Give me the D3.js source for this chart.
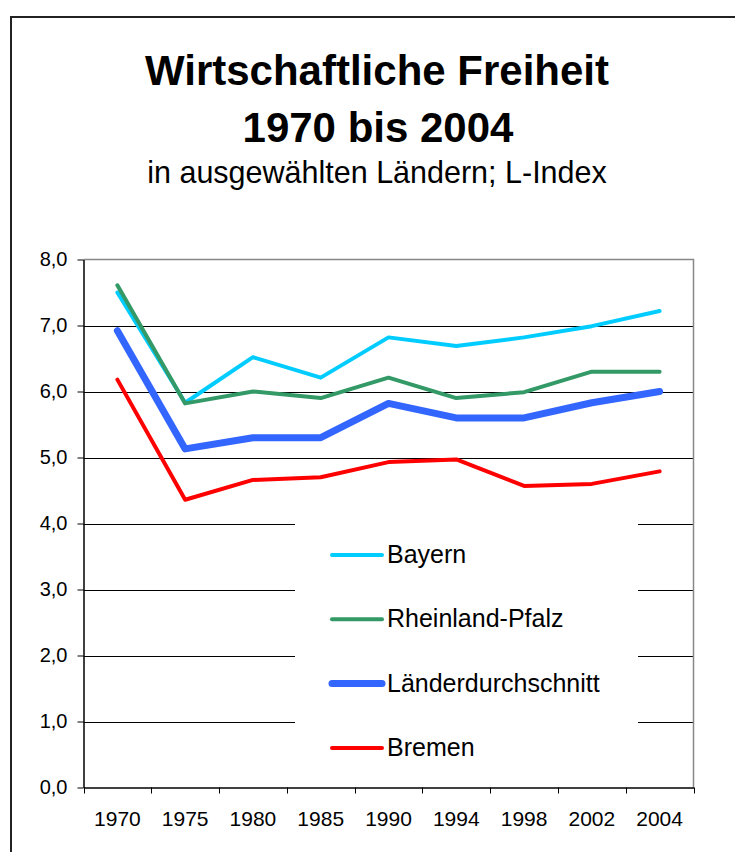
<!DOCTYPE html>
<html>
<head>
<meta charset="utf-8">
<script src="https://cdn.jsdelivr.net/npm/d3@7"></script>
<style>
  body { margin: 0; background: #fff; }
  svg { display: block; font-family: "Liberation Sans", Arial, sans-serif; }
</style>
</head>
<body>
<div id="root"></div>
<script>
const years = ["1970", "1975", "1980", "1985", "1990", "1994", "1998", "2002", "2004"];
const bayern = [7.5, 5.83, 6.52, 6.21, 6.82, 6.69, 6.82, 6.99, 7.22];
const rheinlandPfalz = [7.61, 5.82, 6.0, 5.9, 6.21, 5.9, 5.99, 6.3, 6.3];
const laenderschnitt = [6.92, 5.13, 5.3, 5.3, 5.82, 5.6, 5.6, 5.83, 6.0];
const bremen = [6.18, 4.36, 4.66, 4.7, 4.93, 4.97, 4.57, 4.6, 4.79];
const yTicks = [0, 1, 2, 3, 4, 5, 6, 7, 8];

const series = [
  { name: "Bayern", values: bayern, color: "#00CCFF", width: 4 },
  { name: "Rheinland-Pfalz", values: rheinlandPfalz, color: "#339966", width: 4 },
  { name: "Länderdurchschnitt", values: laenderschnitt, color: "#3366FF", width: 7 },
  { name: "Bremen", values: bremen, color: "#FF0000", width: 4 }
];

const w = 735;
const h = 852;
const plotLeft = 83.5, plotRight = 693.5, plotTop = 259.5, plotBottom = 787.5;

const svg = d3.select("#root")
  .append("svg")
  .attr("width", w)
  .attr("height", h);

// outer frame (continues past the window on right and bottom)
svg.append("rect")
  .attr("x", 11).attr("y", 17)
  .attr("width", 800).attr("height", 900)
  .attr("fill", "none")
  .attr("stroke", "#222")
  .attr("stroke-width", 2);

svg.append("text")
  .attr("x", 377).attr("y", 85)
  .attr("text-anchor", "middle")
  .style("font-size", "42px").style("font-weight", "bold")
  .text("Wirtschaftliche Freiheit");

svg.append("text")
  .attr("x", 378).attr("y", 142)
  .attr("text-anchor", "middle")
  .style("font-size", "42px").style("font-weight", "bold")
  .text("1970 bis 2004");

svg.append("text")
  .attr("x", 377).attr("y", 183)
  .attr("text-anchor", "middle")
  .style("font-size", "30.5px")
  .text("in ausgewählten Ländern; L-Index");

const xScale = d3.scaleBand()
  .domain(years)
  .range([plotLeft, plotRight])
  .padding(0);

const yScale = d3.scaleLinear()
  .domain([0, 8])
  .range([plotBottom, plotTop]);

const de = d3.formatLocale({ decimal: ",", thousands: ".", grouping: [3], currency: ["", " €"] });
const fmt = de.format(".1f");

// gridlines
svg.append("g")
  .selectAll("line")
  .data(yTicks.filter(d => d > 0 && d < 8))
  .enter()
  .append("line")
  .attr("x1", plotLeft).attr("x2", plotRight)
  .attr("y1", d => Math.round(yScale(d)) + 0.5)
  .attr("y2", d => Math.round(yScale(d)) + 0.5)
  .attr("stroke", "#000")
  .attr("stroke-width", 1);

// plot frame top / right
svg.append("path")
  .attr("d", `M${plotLeft},${plotTop}H${plotRight}V${plotBottom}`)
  .attr("fill", "none")
  .attr("stroke", "#888")
  .attr("stroke-width", 1.5);

// legend background
svg.append("rect")
  .attr("x", 295).attr("y", 508)
  .attr("width", 343).attr("height", 272)
  .attr("fill", "#fff");

const line = d3.line()
  .x((d, i) => xScale(years[i]) + xScale.bandwidth() / 2)
  .y(d => yScale(d));

svg.append("g")
  .selectAll("path")
  .data(series)
  .enter()
  .append("path")
  .attr("d", d => line(d.values))
  .attr("fill", "none")
  .attr("stroke", d => d.color)
  .attr("stroke-width", d => d.width)
  .attr("stroke-linejoin", "round")
  .attr("stroke-linecap", "round");

const yAxis = d3.axisLeft(yScale)
  .tickValues(yTicks)
  .tickSize(6)
  .tickSizeOuter(0)
  .tickPadding(10)
  .tickFormat(fmt);

const xAxis = d3.axisBottom(xScale)
  .tickSize(0)
  .tickSizeOuter(0)
  .tickPadding(24);

const gx = svg.append("g")
  .attr("id", "x-axis")
  .attr("transform", `translate(0, ${plotBottom})`)
  .call(xAxis);

gx.selectAll("text")
  .style("font-size", "21px")
  .attr("fill", "#000");

// x ticks at category boundaries
gx.selectAll(".bound")
  .data(d3.range(years.length + 1))
  .enter()
  .append("line")
  .attr("class", "bound")
  .attr("x1", i => Math.round(plotLeft + i * xScale.bandwidth()) + 0.5)
  .attr("x2", i => Math.round(plotLeft + i * xScale.bandwidth()) + 0.5)
  .attr("y1", 0).attr("y2", 6)
  .attr("stroke", "#000");

gx.select(".domain").attr("stroke", "#000").attr("stroke-width", 1.5);

const gy = svg.append("g")
  .attr("id", "y-axis")
  .attr("transform", `translate(${plotLeft}, 0)`)
  .call(yAxis);

gy.selectAll("text")
  .style("font-size", "20px")
  .attr("fill", "#000");
gy.select(".domain").attr("stroke", "#000").attr("stroke-width", 1.5);

// legend
const legend = svg.append("g")
  .selectAll("g")
  .data(series)
  .enter()
  .append("g")
  .attr("transform", (d, i) => `translate(332, ${555 + i * 64.3})`);

legend.append("line")
  .attr("x1", 0).attr("x2", 50)
  .attr("y1", 0).attr("y2", 0)
  .attr("stroke", d => d.color)
  .attr("stroke-width", d => d.width)
  .attr("stroke-linecap", "round");

legend.append("text")
  .attr("x", 55)
  .attr("y", 8)
  .style("font-size", "25px")
  .text(d => d.name);
</script>
</body>
</html>
